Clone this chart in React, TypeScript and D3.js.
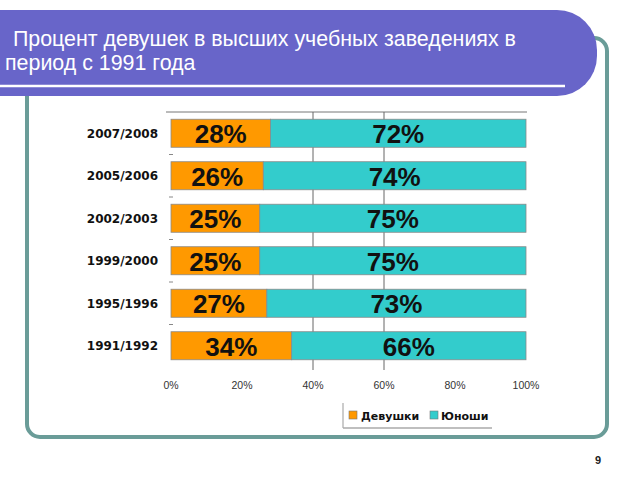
import React from "react";
import * as d3 from "d3";

const categories = ["2007/2008", "2005/2006", "2002/2003", "1999/2000", "1995/1996", "1991/1992"];
const girls = [28, 26, 25, 25, 27, 34];
const boys = [72, 74, 75, 75, 73, 66];
const tickValues = [0, 20, 40, 60, 80, 100];
const gridValues = [40, 60];
const seriesNames = ["Девушки", "Юноши"];
const colors = ["#FF9900", "#33CCCC"];
const titleLines = [" Процент девушек в высших учебных заведениях в", "период с 1991 года"];

export default function App() {
  const x = d3.scaleLinear().domain([0, 100]).range([171, 526]);
  const y = d3.scaleBand<string>().domain(categories).range([112, 367]).paddingInner(0.34).paddingOuter(0.17);
  const bw = y.bandwidth();
  const step = y.step();

  const stacked = categories.map((c, i) => ({ c, segs: [
    { x0: 0, x1: girls[i], v: girls[i], color: colors[0] },
    { x0: girls[i], x1: girls[i] + boys[i], v: boys[i], color: colors[1] },
  ] }));

  return (
    <svg width={640} height={480} style={{ position: "fixed", left: 0, top: 0, background: "#fff" }}>
      {/* frame */}
      <rect x={27} y={38} width={580} height={399} rx={13} fill="none" stroke="#6a9c98" strokeWidth={4} />
      {/* title band */}
      <rect x={-40} y={10} width={637} height={86} rx={40} fill="#6865C9" />
      <line x1={0} x2={565} y1={86} y2={86} stroke="#fff" strokeWidth={2.5} />
      <text x={7} y={46} fill="#fff" fontFamily="'Liberation Sans', Arial, sans-serif" fontSize={21.4} style={{ whiteSpace: "pre" }}>{titleLines[0]}</text>
      <text x={5} y={70} fill="#fff" fontFamily="'Liberation Sans', Arial, sans-serif" fontSize={21.4}>{titleLines[1]}</text>

      {/* top line and gridlines */}
      <line x1={166} x2={527} y1={112} y2={112} stroke="#777" strokeWidth={1} />
      {gridValues.map((g) => (
        <line key={g} x1={x(g)} x2={x(g)} y1={112} y2={370} stroke="#666" strokeWidth={1} />
      ))}
      {/* small ticks between categories */}
      {categories.slice(1).map((c) => (
        <line key={c} x1={169} x2={173} y1={(y(c) as number) - (step - bw) / 2} y2={(y(c) as number) - (step - bw) / 2} stroke="#888" strokeWidth={1} />
      ))}

      {/* bars */}
      {stacked.map((row) => (
        <g key={row.c}>
          {row.segs.map((s, j) => (
            <rect key={j} x={x(s.x0)} y={y(row.c)} width={x(s.x1) - x(s.x0)} height={bw} fill={s.color} stroke="#8a8a8a" strokeWidth={0.8} />
          ))}
          {row.segs.map((s, j) => (
            <text key={"t" + j} x={(x(s.x0) + x(s.x1)) / 2} y={(y(row.c) as number) + bw / 2 + 10} textAnchor="middle"
              fontFamily="'Liberation Sans', Arial, sans-serif" fontWeight="bold" fontSize={26} fill="#111">{s.v}%</text>
          ))}
          <text x={158} y={(y(row.c) as number) + bw / 2 + 4.5} textAnchor="end" fontFamily="'DejaVu Sans', sans-serif" fontWeight="bold" fontSize={12} fill="#111">{row.c}</text>
        </g>
      ))}

      {/* x axis labels */}
      {tickValues.map((t) => (
        <text key={t} x={x(t)} y={389} textAnchor="middle" fontFamily="'Liberation Sans', Arial, sans-serif" fontSize={10.5} fill="#333">{t}%</text>
      ))}

      {/* legend */}
      <line x1={343} x2={343} y1={403} y2={428} stroke="#999" strokeWidth={1} />
      <line x1={343} x2={492} y1={428} y2={428} stroke="#aaa" strokeWidth={1.5} />
      <rect x={349} y={411} width={8} height={8} fill={colors[0]} stroke="#777" strokeWidth={0.6} />
      <text x={361} y={420} fontFamily="'DejaVu Sans', sans-serif" fontWeight="bold" fontSize={11} fill="#111">{seriesNames[0]}</text>
      <rect x={430} y={411} width={8} height={8} fill={colors[1]} stroke="#777" strokeWidth={0.6} />
      <text x={441} y={420} fontFamily="'DejaVu Sans', sans-serif" fontWeight="bold" fontSize={11} fill="#111">{seriesNames[1]}</text>

      {/* page number */}
      <text x={598} y={464} textAnchor="middle" fontFamily="'Liberation Sans', Arial, sans-serif" fontWeight="bold" fontSize={11} fill="#222">9</text>
    </svg>
  );
}
